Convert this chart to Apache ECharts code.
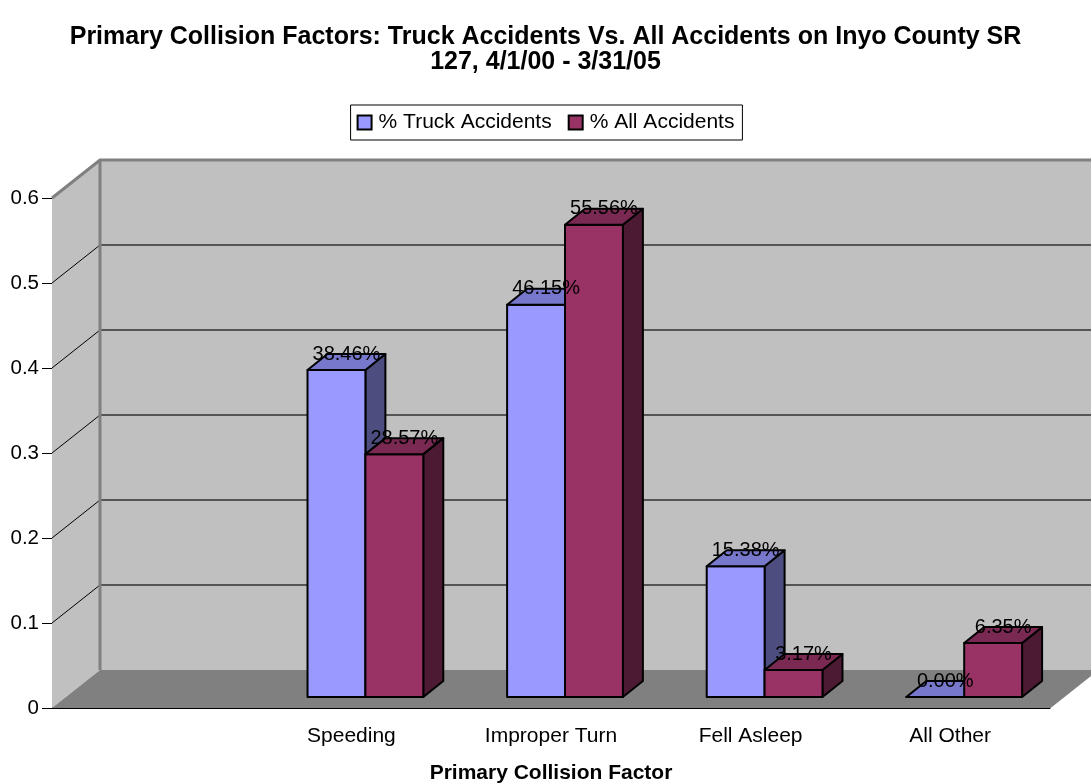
<!DOCTYPE html>
<html>
<head>
<meta charset="utf-8">
<script src="https://cdn.jsdelivr.net/npm/echarts@6/dist/echarts.min.js"></script>
<style>
  html, body { margin: 0; padding: 0; background: #fff; }
  #chart { width: 1091px; height: 783px; }
</style>
</head>
<body>
<div id="chart"></div>
<script>
const categories = ['', 'Speeding', 'Improper Turn', 'Fell Asleep', 'All Other'];
const truckPct = [null, 0.3846, 0.4615, 0.1538, 0.0];
const allPct = [null, 0.2857, 0.5556, 0.0317, 0.0635];
const yTicks = [0, 0.1, 0.2, 0.3, 0.4, 0.5, 0.6];

const FONT = 'Liberation Sans, Arial, sans-serif';
// 3d look: wall depth and bar depth in px
const WALL_DX = 48, WALL_DY = 38;
const FRONT_DX = 14, FRONT_DY = 11;
const BAR_DX = 20, BAR_DY = 16;

const truckColors = { front: '#9999FF', top: '#7777CC', side: '#4D4D80' };
const allColors = { front: '#993366', top: '#7A2952', side: '#4D1A33' };

const toData = (arr) => arr.map((v, i) => [i, v]).filter((d) => d[1] !== null);

const barGeom = (api, slot) => {
    const i = api.value(0);
    const v = api.value(1);
    const base = api.coord([i, 0]);
    const top = api.coord([i, v]);
    const w = api.size([1, 0])[0] * 0.29;
    const cx = base[0] + FRONT_DX;
    const xl = slot === 0 ? cx - w : cx;
    return { xl, xr: xl + w, yb: base[1] - FRONT_DY, yt: top[1] - FRONT_DY, v };
};

const barRenderer = (slot, c) => (params, api) => {
    const g = barGeom(api, slot);
    const stroke = { stroke: '#000', lineWidth: 2, lineJoin: 'round' };
    return {
        type: 'group',
        children: [
            {
                type: 'polygon',
                shape: { points: [[g.xr, g.yt], [g.xr + BAR_DX, g.yt - BAR_DY], [g.xr + BAR_DX, g.yb - BAR_DY], [g.xr, g.yb]] },
                style: Object.assign({ fill: c.side }, stroke)
            },
            {
                type: 'rect',
                shape: { x: g.xl, y: g.yt, width: g.xr - g.xl, height: g.yb - g.yt },
                style: Object.assign({ fill: c.front }, stroke)
            },
            {
                type: 'polygon',
                shape: { points: [[g.xl, g.yt], [g.xl + BAR_DX, g.yt - BAR_DY], [g.xr + BAR_DX, g.yt - BAR_DY], [g.xr, g.yt]] },
                style: Object.assign({ fill: c.top }, stroke)
            }
        ]
    };
};

const labelRenderer = (params, api) => {
    const g = barGeom(api, api.value(2));
    return {
        type: 'text',
        style: {
            x: (g.xl + g.xr) / 2 + BAR_DX / 2,
            y: g.yt - BAR_DY,
            text: (g.v * 100).toFixed(2) + '%',
            fill: '#000',
            font: '20px ' + FONT,
            align: 'center',
            verticalAlign: 'middle'
        }
    };
};

const wallRenderer = (params, api) => {
    const cs = params.coordSys;
    const x0 = cs.x, x1 = cs.x + cs.width;
    const yTop = cs.y, yBot = cs.y + cs.height;
    const children = [
        { type: 'polygon', shape: { points: [[x0, yTop], [x0 + WALL_DX, yTop - WALL_DY], [x0 + WALL_DX, yBot - WALL_DY], [x0, yBot]] }, style: { fill: '#C0C0C0' } },
        { type: 'rect', shape: { x: x0 + WALL_DX, y: yTop - WALL_DY, width: cs.width, height: cs.height }, style: { fill: '#C0C0C0' } },
        { type: 'polygon', shape: { points: [[x0, yBot], [x0 + WALL_DX, yBot - WALL_DY], [x1 + WALL_DX, yBot - WALL_DY], [x1, yBot]] }, style: { fill: '#808080' } }
    ];
    yTicks.forEach((t) => {
        if (t === 0 || t === yTicks[yTicks.length - 1]) return;
        const y = api.coord([0, t])[1];
        children.push({ type: 'line', shape: { x1: x0, y1: y, x2: x0 + WALL_DX, y2: y - WALL_DY }, style: { stroke: '#000', lineWidth: 1 } });
        children.push({ type: 'line', shape: { x1: x0 + WALL_DX, y1: y - WALL_DY, x2: x1 + WALL_DX, y2: y - WALL_DY }, style: { stroke: '#555', lineWidth: 2 } });
    });
    children.push({ type: 'polyline', shape: { points: [[x0, yTop], [x0 + WALL_DX, yTop - WALL_DY], [x1 + WALL_DX, yTop - WALL_DY]] }, style: { stroke: '#808080', lineWidth: 3, fill: null } });
    children.push({ type: 'line', shape: { x1: x0 + WALL_DX, y1: yTop - WALL_DY, x2: x0 + WALL_DX, y2: yBot - WALL_DY }, style: { stroke: '#808080', lineWidth: 3 } });
    children.push({ type: 'line', shape: { x1: x1, y1: yBot, x2: x1 + WALL_DX, y2: yBot - WALL_DY }, style: { stroke: '#808080', lineWidth: 1 } });
    return { type: 'group', children };
};

const chart = echarts.init(document.getElementById('chart'));
chart.setOption({
    animation: false,
    backgroundColor: '#fff',
    title: {
        text: 'Primary Collision Factors: Truck Accidents Vs. All Accidents on Inyo County SR\n127, 4/1/00 - 3/31/05',
        left: 'center',
        top: 20,
        textStyle: { fontFamily: FONT, fontSize: 25, fontWeight: 'bold', color: '#000', lineHeight: 25 }
    },
    legend: {
        top: 105,
        left: 'center',
        data: [
            { name: '% Truck Accidents', itemStyle: { color: truckColors.front, borderColor: '#000', borderWidth: 2 } },
            { name: '% All Accidents', itemStyle: { color: allColors.front, borderColor: '#000', borderWidth: 2 } }
        ],
        icon: 'rect',
        itemWidth: 14,
        itemHeight: 14,
        itemGap: 16,
        padding: [7, 8, 7, 6],
        borderColor: '#000',
        borderWidth: 1,
        borderRadius: 0,
        backgroundColor: '#fff',
        selectedMode: false,
        textStyle: { fontFamily: FONT, fontSize: 21, color: '#000', padding: [0, 0, 0, 2] }
    },
    grid: { left: 52, right: 41, top: 198, bottom: 75, containLabel: false, outerBoundsMode: 'none' },
    xAxis: {
        type: 'category',
        data: categories,
        name: 'Primary Collision Factor',
        nameLocation: 'middle',
        nameGap: 55,
        nameTextStyle: { fontFamily: FONT, fontSize: 21, fontWeight: 'bold', color: '#000' },
        axisLine: { lineStyle: { color: '#000', width: 1 } },
        axisTick: { length: 9, interval: 0, lineStyle: { color: '#000' } },
        axisLabel: { interval: 0, margin: 18, fontFamily: FONT, fontSize: 21, color: '#000' },
        splitLine: { show: false }
    },
    yAxis: {
        type: 'value',
        min: 0,
        max: 0.6,
        interval: 0.1,
        axisLine: { show: true, lineStyle: { color: '#000', width: 1 } },
        axisTick: { show: true, length: 10, lineStyle: { color: '#000' } },
        axisLabel: { margin: 13, fontFamily: FONT, fontSize: 20.5, color: '#000' },
        splitLine: { show: false }
    },
    series: [
        { type: 'custom', name: 'walls', z: 1, silent: true, renderItem: wallRenderer, data: [[0, 0]] },
        {
            type: 'custom', name: '% Truck Accidents', z: 3,
            itemStyle: { color: truckColors.front },
            renderItem: barRenderer(0, truckColors), data: toData(truckPct)
        },
        {
            type: 'custom', name: '% All Accidents', z: 4,
            itemStyle: { color: allColors.front },
            renderItem: barRenderer(1, allColors), data: toData(allPct)
        },
        {
            type: 'custom', name: 'labels', z: 5, silent: true, renderItem: labelRenderer,
            data: toData(truckPct).map((d) => [d[0], d[1], 0]).concat(toData(allPct).map((d) => [d[0], d[1], 1]))
        }
    ]
});
</script>
</body>
</html>
